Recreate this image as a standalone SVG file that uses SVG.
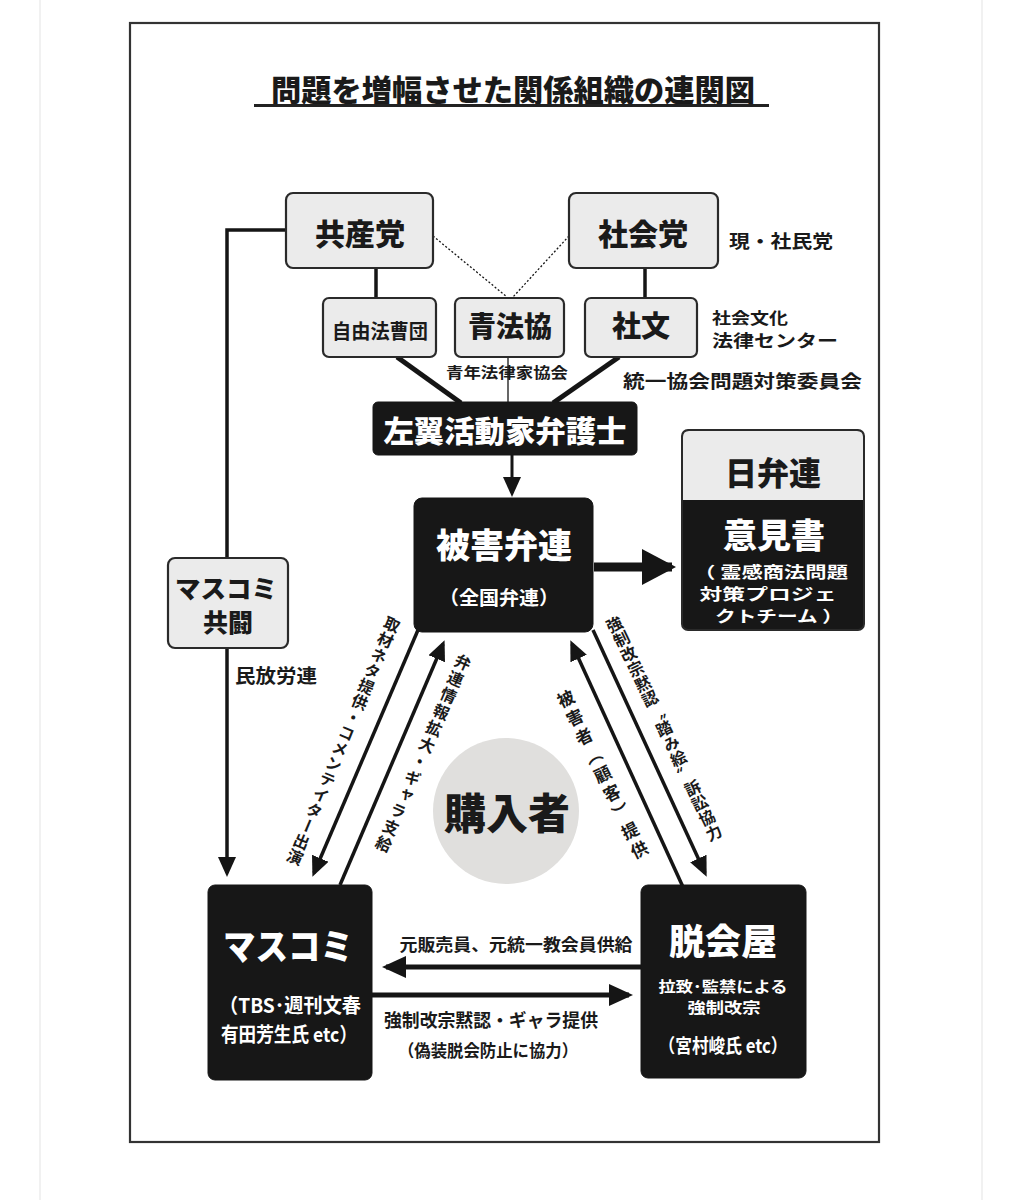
<svg xmlns="http://www.w3.org/2000/svg" width="1021" height="1200" viewBox="0 0 1021 1200">
<style>
text{font-family:"Liberation Sans","Noto Sans CJK JP",sans-serif;font-weight:700;fill:#1a1a1a}
.j{font-family:"Noto Sans CJK JP","Noto Sans CJK SC",sans-serif}
.h{font-weight:900}
.w{fill:#ffffff}
.c{text-anchor:middle}
.lb{fill:#ebebeb;stroke:#2a2a2a;stroke-width:2.2}
.db{fill:#171717;stroke:#171717;stroke-width:1}
.ln{stroke:#151515;fill:none}
.v{writing-mode:vertical-rl;text-orientation:mixed}
</style>
<defs>
<marker id="ah" viewBox="0 0 20 18" markerWidth="20" markerHeight="18" refX="16" refY="9" orient="auto" markerUnits="userSpaceOnUse"><path d="M0,0 L20,9 L0,18 z" fill="#151515"/></marker>
<marker id="ahm" viewBox="0 0 24 22" markerWidth="24" markerHeight="22" refX="20" refY="11" orient="auto" markerUnits="userSpaceOnUse"><path d="M0,0 L24,11 L0,22 z" fill="#151515"/></marker>
<marker id="ahb" viewBox="0 0 34 36" markerWidth="34" markerHeight="36" refX="30" refY="18" orient="auto" markerUnits="userSpaceOnUse"><path d="M0,0 L34,18 L0,36 z" fill="#151515"/></marker>
</defs>
<rect x="0" y="0" width="1021" height="1200" fill="#ffffff"/>
<line x1="40" y1="0" x2="40" y2="1200" stroke="#ececec" stroke-width="1.5"/>
<line x1="982" y1="0" x2="982" y2="1200" stroke="#ececec" stroke-width="1.5"/>
<rect x="130" y="23" width="749" height="1119" fill="none" stroke="#333" stroke-width="2.2"/>

<g id="title">
<text class="j c h" x="513" y="101" font-size="30" textLength="484" lengthAdjust="spacingAndGlyphs">問題を増幅させた関係組織の連関図</text>
<line x1="254" y1="105.5" x2="769" y2="105.5" stroke="#222" stroke-width="3"/>
</g>

<g id="connectors">
<line class="ln" x1="433" y1="236" x2="507" y2="297" stroke="#666" stroke-width="1.3" stroke-dasharray="2,2"/>
<line class="ln" x1="569" y1="236" x2="513" y2="297" stroke="#666" stroke-width="1.3" stroke-dasharray="2,2"/>
<line class="ln" x1="376" y1="268" x2="376" y2="298" stroke-width="3.5"/>
<line class="ln" x1="645" y1="268" x2="645" y2="298" stroke-width="3.5"/>
<line class="ln" x1="397" y1="357" x2="461" y2="403" stroke-width="5"/>
<line class="ln" x1="619" y1="357" x2="553" y2="403" stroke-width="5"/>
<line class="ln" x1="508" y1="357" x2="508" y2="403" stroke-width="1.3"/>
<line class="ln" x1="512" y1="455" x2="512" y2="493" stroke-width="3" marker-end="url(#ah)"/>
<line class="ln" x1="594" y1="567" x2="672" y2="567" stroke-width="9" marker-end="url(#ahb)"/>
<polyline class="ln" points="286,230 227,230 227,558" stroke-width="3.5"/>
<line class="ln" x1="227" y1="648" x2="227" y2="873" stroke-width="3.5" marker-end="url(#ah)"/>
<line class="ln" x1="418" y1="630" x2="314" y2="873" stroke-width="3.5" marker-end="url(#ah)"/>
<line class="ln" x1="340" y1="885" x2="443" y2="644" stroke-width="3.5" marker-end="url(#ah)"/>
<line class="ln" x1="593" y1="630" x2="705" y2="873" stroke-width="3.5" marker-end="url(#ah)"/>
<line class="ln" x1="683" y1="887" x2="572" y2="644" stroke-width="3.5" marker-end="url(#ah)"/>
<line class="ln" x1="641" y1="967" x2="386" y2="967" stroke-width="5" marker-end="url(#ahm)"/>
<line class="ln" x1="372" y1="995" x2="629" y2="995" stroke-width="5" marker-end="url(#ahm)"/>
</g>

<g id="labels">
<text class="j" x="623" y="388" font-size="18" textLength="239" lengthAdjust="spacingAndGlyphs">統一協会問題対策委員会</text>
<text class="j" x="235" y="683" font-size="19" textLength="82" lengthAdjust="spacingAndGlyphs">民放労連</text>
<text class="j c" x="516" y="951" font-size="17" textLength="233" lengthAdjust="spacingAndGlyphs">元販売員、元統一教会員供給</text>
<text class="j c" x="491" y="1027" font-size="18" textLength="214" lengthAdjust="spacingAndGlyphs">強制改宗黙認・ギャラ提供</text>
<text class="j c" x="488" y="1057" font-size="17" textLength="180" lengthAdjust="spacingAndGlyphs">（偽装脱会防止に協力）</text>
<text class="j v" transform="translate(395,617) rotate(22.6)" x="0" y="0" font-size="16" letter-spacing="0.8">取材ネタ提供・コメンテイター出演</text>
<text class="j v" transform="translate(466,655) rotate(23.5)" x="0" y="0" font-size="16" letter-spacing="2">弁連情報拡大・ギャラ支給</text>
<text class="j v" transform="translate(611,617) rotate(-25.5)" x="0" y="0" font-size="16" letter-spacing="0.5">強制改宗黙認〝踏み絵〟訴訟協力</text>
<text class="j v" transform="translate(562,691) rotate(-26)" x="0" y="0" font-size="17" letter-spacing="4">被害者（顧客）提供</text>
</g>

<g id="kyosanto">
<rect class="lb" x="286" y="193" width="147" height="75" rx="7"/>
<text class="j c h" x="360" y="245" font-size="30">共産党</text>
</g>
<g id="shakaito">
<rect class="lb" x="569" y="193" width="149" height="75" rx="7"/>
<text class="j c h" x="643" y="245" font-size="30">社会党</text>
<text class="j" x="729" y="248" font-size="18" textLength="104" lengthAdjust="spacingAndGlyphs">現・社民党</text>
</g>
<g id="jiyuhoso">
<rect class="lb" x="323" y="298" width="113" height="59" rx="6"/>
<text class="j c" x="380" y="339" font-size="20" textLength="96" lengthAdjust="spacingAndGlyphs">自由法曹団</text>
</g>
<g id="seihokyo">
<rect class="lb" x="455" y="298" width="109" height="59" rx="6"/>
<text class="j c h" x="510" y="337" font-size="28">青法協</text>
<text class="j c" x="507" y="378" font-size="15" textLength="122" lengthAdjust="spacingAndGlyphs">青年法律家協会</text>
</g>
<g id="shabun">
<rect class="lb" x="585" y="298" width="112" height="59" rx="6"/>
<text class="j c h" x="641" y="337" font-size="29">社文</text>
<text class="j" x="712" y="324" font-size="16" textLength="76" lengthAdjust="spacingAndGlyphs">社会文化</text>
<text class="j" x="712" y="347" font-size="17" textLength="126" lengthAdjust="spacingAndGlyphs">法律センター</text>
</g>
<g id="sayoku">
<rect class="db" x="373" y="402" width="264" height="53" rx="5"/>
<text class="j c w h" x="505" y="442" font-size="30" textLength="243" lengthAdjust="spacingAndGlyphs">左翼活動家弁護士</text>
</g>
<g id="higaibenren">
<rect class="db" x="414" y="498" width="179" height="134" rx="8"/>
<text class="j c w h" x="504" y="558" font-size="34">被害弁連</text>
<text class="j c w" x="499" y="605" font-size="19" textLength="120" lengthAdjust="spacingAndGlyphs">（全国弁連）</text>
</g>
<g id="nichibenren">
<rect x="682" y="430" width="182" height="200" rx="6" fill="#171717" stroke="#2a2a2a" stroke-width="2"/>
<path d="M683,500 V437 Q683,431 689,431 H857 Q863,431 863,437 V500 Z" fill="#ebebeb"/>
<text class="j c h" x="773" y="485" font-size="32">日弁連</text>
<text class="j c w h" x="774" y="548" font-size="34">意見書</text>
<text class="j c w" x="771" y="578" font-size="16" textLength="154" lengthAdjust="spacingAndGlyphs">（ 霊感商法問題</text>
<text class="j c w" x="768" y="600" font-size="16" textLength="137" lengthAdjust="spacingAndGlyphs">対策プロジェ</text>
<text class="j c w" x="779" y="622" font-size="16" textLength="128" lengthAdjust="spacingAndGlyphs">クトチーム ）</text>
</g>
<g id="masukomi-kyoto">
<rect class="lb" x="168" y="558" width="120" height="90" rx="7"/>
<text class="j c h" x="226" y="598" font-size="25" textLength="102" lengthAdjust="spacingAndGlyphs">マスコミ</text>
<text class="j c h" x="228" y="632" font-size="25">共闘</text>
</g>
<g id="konyusha">
<circle cx="506" cy="811" r="73" fill="#e0dfdd"/>
<text class="j c h" x="507" y="829" font-size="42">購入者</text>
</g>
<g id="masukomi">
<rect class="db" x="208" y="885" width="164" height="195" rx="7"/>
<text class="j c w h" x="288" y="960" font-size="36" textLength="130" lengthAdjust="spacingAndGlyphs">マスコミ</text>
<text class="j w" x="219" y="1013" font-size="20" textLength="142" lengthAdjust="spacingAndGlyphs">（TBS･週刊文春</text>
<text class="j w" x="221" y="1042" font-size="20" textLength="136" lengthAdjust="spacingAndGlyphs">有田芳生氏 etc）</text>
</g>
<g id="dakkaiya">
<rect class="db" x="641" y="885" width="165" height="193" rx="7"/>
<text class="j c w h" x="723" y="955" font-size="36">脱会屋</text>
<text class="j c w" x="723" y="992" font-size="15" textLength="129" lengthAdjust="spacingAndGlyphs">拉致･監禁による</text>
<text class="j c w" x="724" y="1013" font-size="15" textLength="73" lengthAdjust="spacingAndGlyphs">強制改宗</text>
<text class="j c w" x="723" y="1053" font-size="19" textLength="129" lengthAdjust="spacingAndGlyphs">（宮村峻氏 etc）</text>
</g>
</svg>
